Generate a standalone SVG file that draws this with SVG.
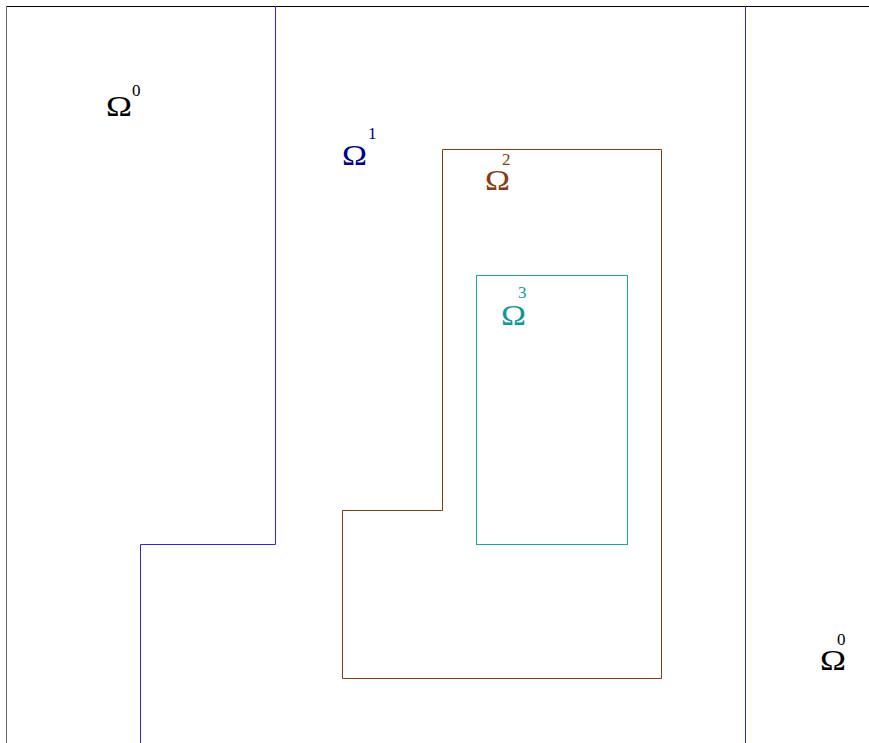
<svg xmlns="http://www.w3.org/2000/svg" width="869" height="743" viewBox="0 0 869 743">
<style>
.t{font-family:"Liberation Serif","Times New Roman",serif;font-size:29px}
.s{font-size:17px}
.b{fill:none;stroke-width:1}
</style>
<rect width="869" height="743" fill="#fff"/>
<g id="frame">
<line class="b" x1="6" y1="6.5" x2="869" y2="6.5" stroke="#000"/>
<line class="b" x1="6.5" y1="6" x2="6.5" y2="743" stroke="#666"/>
</g>
<g id="omega1-boundary">
<polyline class="b" points="275.5,6 275.5,544.5 140.5,544.5 140.5,743" stroke="#2a2ad0"/>
<line class="b" x1="745.5" y1="6" x2="745.5" y2="743" stroke="#2a2ad0"/>
</g>
<g id="omega2-boundary">
<polygon class="b" points="442.5,149.5 661.5,149.5 661.5,678.5 342.5,678.5 342.5,510.5 442.5,510.5" stroke="#8b3a0f"/>
</g>
<g id="omega3-boundary">
<rect class="b" x="476.5" y="275.5" width="151" height="269" stroke="#20a0a0"/>
</g>
<g id="labels">
<text class="t" x="106" y="116" fill="#000"><tspan textLength="26" lengthAdjust="spacingAndGlyphs">Ω</tspan><tspan class="s" x="132" y="96">0</tspan></text>
<text class="t" x="342" y="165" fill="#00008b"><tspan textLength="25" lengthAdjust="spacingAndGlyphs">Ω</tspan><tspan class="s" x="368" y="139">1</tspan></text>
<text class="t" x="485" y="190" fill="#8b3a0f"><tspan textLength="25" lengthAdjust="spacingAndGlyphs">Ω</tspan><tspan class="s" x="502" y="165">2</tspan></text>
<text class="t" x="501" y="325" fill="#109898"><tspan textLength="25" lengthAdjust="spacingAndGlyphs">Ω</tspan><tspan class="s" x="518" y="298">3</tspan></text>
<text class="t" x="820" y="670" fill="#000"><tspan textLength="26" lengthAdjust="spacingAndGlyphs">Ω</tspan><tspan class="s" x="837" y="645">0</tspan></text>
</g>
</svg>
